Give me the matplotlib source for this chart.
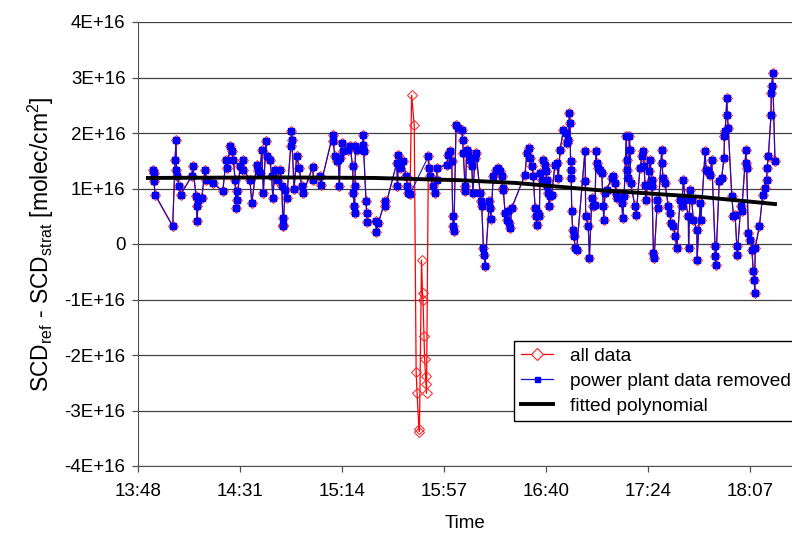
import numpy as np
import matplotlib
matplotlib.use('Agg')
import matplotlib.pyplot as plt
from matplotlib.lines import Line2D
from matplotlib.ticker import FixedLocator, FuncFormatter

# time in minutes after 13:48, values in units of 1E16 molec/cm2
inicio = 13 * 60 + 48

minutos = [
    6.4, 6.6, 6.8, 7.2, 14.7, 15.7, 16.1, 16.3, 16.5, 17.5, 18.1, 22.7, 23.2, 24.6, 24.8, 25.0, 25.5, 27.0,
    28.4, 28.6, 31.8, 35.9, 37.3, 37.8, 39.0, 39.7, 40.4, 41.1, 41.5, 41.8, 42.1, 43.2, 44.4, 44.6, 47.4,
    48.2, 50.3, 51.0, 51.7, 52.4, 53.1, 54.2, 54.5, 55.9, 56.6, 57.1, 58.0, 58.8, 60.2, 60.9, 61.3, 61.4,
    61.5, 62.3, 63.0, 64.7, 65.0, 65.2, 66.1, 67.2, 68.3, 69.3, 70.0,
    74.0, 74.3, 77.1, 77.4, 82.5, 82.7, 83.4, 84.2, 84.8, 85.3, 85.6, 86.3, 86.7, 89.1, 89.8, 90.9, 91.2,
    91.5, 91.7, 91.9, 92.1, 92.6, 95.2, 95.4, 95.6, 96.6, 96.8, 97.0, 100.8, 101.0, 101.8, 104.6, 104.8,
    109.6, 109.9, 110.3, 111.0, 112.4, 113.5, 114.1, 114.5, 115.2,
    115.9, 117.0, 117.8, 118.2, 119.0, 119.2, 120.1, 120.5, 120.7, 121.1, 121.4, 121.8, 122.0, 122.2,
    123.0, 123.2, 123.7, 125.1, 125.8, 126.5, 126.7, 130.8, 131.4, 132.2, 132.9, 133.3, 133.6, 133.8,
    134.7, 135.7, 137.1, 137.5, 137.8, 138.5, 138.7, 139.2, 139.9, 140.6, 141.4, 141.8, 142.8, 143.2,
    144.9, 145.2, 145.6, 146.3, 146.6, 147.0, 148.8, 149.1, 149.4, 150.5, 151.6, 152.6, 153.3, 154.1,
    154.4, 154.7, 155.5, 156.2, 156.9, 157.3, 157.6, 158.3,
    163.9, 164.7, 165.8, 166.1, 166.8, 167.4, 168.2, 168.6, 168.8, 169.6, 170.0, 170.3, 171.0, 171.7,
    172.4, 172.8, 173.1, 173.4, 173.8, 174.1, 174.5, 175.2, 176.6, 177.4, 178.0, 178.8, 180.2, 181.3,
    181.6, 182.3, 182.7, 183.0, 183.2, 183.4, 183.5, 183.7, 184.1, 184.7, 185.1, 185.8,
    189.3, 189.5, 189.6, 190.7, 191.2, 192.2, 192.9, 193.6, 194.0, 194.3, 195.0, 195.7, 196.4, 197.1,
    197.2, 197.8, 198.5, 200.7, 201.3, 202.1, 202.5, 202.8,
    204.9, 205.3, 205.9, 206.8, 207.0, 207.1, 207.7, 208.1, 208.4, 208.6, 210.5, 211.0, 212.6, 213.4,
    214.0, 214.3, 214.8, 215.0, 216.6, 216.9, 217.6, 217.7, 218.3, 218.6, 220.0, 220.4, 221.8, 222.0,
    222.3, 223.2, 224.6, 225.4, 225.6, 226.8, 227.5, 228.2, 229.6, 230.3, 231.0, 231.7, 233.1, 233.2,
    233.8, 234.5, 235.2, 236.7, 236.8, 238.1, 238.4, 240.2, 240.6, 241.6, 242.3, 243.0, 244.4, 244.5,
    244.7, 246.2, 247.2, 248.2, 248.4, 248.7, 249.4, 249.6, 250.0, 251.5, 252.2, 252.9, 253.6, 253.8,
    255.3, 255.7, 257.5, 257.6, 257.8, 258.5, 259.3, 260.0, 260.6, 261.1, 261.2, 261.4, 263.2, 264.6,
    265.6, 266.3, 266.4, 267.0, 268.1, 268.2, 268.4, 268.8, 269.8,
]

valores = [
    1.34, 1.28, 1.13, 0.89, 0.32, 1.52, 1.88, 1.34, 1.22, 1.04, 0.89, 1.22, 1.40, 0.86, 0.68, 0.41, 0.80, 0.83,
    1.34, 1.16, 1.10, 0.95, 1.52, 1.37, 1.76, 1.67, 1.52, 1.16, 0.65, 0.95, 0.80, 1.40, 1.52, 1.34, 1.16,
    0.74, 1.43, 1.34, 1.28, 1.70, 0.92, 1.85, 1.58, 1.52, 1.22, 0.83, 1.34, 1.16, 1.34, 1.04, 0.47, 0.35,
    0.32, 0.98, 0.83, 1.76, 2.03, 1.88, 1.00, 1.58, 1.37, 1.04, 0.92,
    1.39, 1.16, 1.22, 1.07, 1.97, 1.85, 1.58, 1.49, 1.52, 1.04, 1.55, 1.82, 1.67, 1.70, 1.76, 1.40, 0.92,
    0.68, 0.56, 1.04, 1.76, 1.70, 1.79, 1.97, 1.67, 0.77, 0.56, 0.39, 0.41, 0.21, 0.38, 0.77, 0.68,
    1.46, 1.04, 1.61, 1.37, 1.49, 1.22, 1.04, 0.92, 0.90,
    2.68, 2.14, -2.30, -2.69, -3.34, -3.38, -0.29, -0.89, -1.00, -1.66, -2.08, -2.38, -2.53, -2.69,
    1.58, 1.37, 1.22, 1.04, 0.92, 1.16, 1.37, 1.43, 1.61, 1.67, 1.49, 0.50, 0.32, 0.23,
    2.15, 2.09, 2.06, 1.88, 1.64, 1.04, 0.95, 1.70, 1.64, 1.52, 1.40, 0.92, 1.55, 1.64,
    0.92, 0.77, 0.68, -0.07, -0.19, -0.40, 0.77, 0.65, 0.45, 1.22, 1.34, 1.37, 1.31, 1.22,
    1.01, 0.98, 0.56, 0.44, 0.59, 0.38, 0.29, 0.65,
    1.25, 1.64, 1.73, 1.55, 1.40, 1.22, 0.65, 0.50, 0.35, 0.56, 0.50, 1.28, 1.16, 1.52,
    1.43, 1.31, 1.16, 1.04, 0.92, 0.68, 0.86, 0.89, 1.43, 1.46, 1.19, 1.70, 2.06, 2.00,
    1.82, 1.88, 2.36, 2.18, 1.49, 1.34, 1.19, 0.59, 0.26, 0.14, -0.07, -0.10,
    1.67, 1.13, 0.50, 0.32, -0.25, 0.83, 0.68, 0.71, 1.67, 1.46, 1.37, 1.34, 1.28, 0.68,
    0.44, 0.92, 0.98, 1.19, 1.22, 1.10, 0.92, 0.83,
    0.74, 0.47, 0.86, 1.94, 1.52, 1.34, 1.19, 1.94, 1.70, 1.10, 0.68, 0.53, 1.37, 1.58,
    1.67, 1.40, 1.07, 0.80, 1.31, 1.52, 1.16, 1.04, -0.16, -0.25, 0.80, 0.65, 1.70, 1.46,
    1.19, 1.10, 0.68, 0.56, 0.38, 0.32, 0.14, -0.07, 0.80, 0.68, 1.16, 0.80, 0.50, -0.07,
    0.98, 0.80, 0.44, 0.26, -0.28, 0.74, 0.44, 1.67, 1.34, 1.31, 1.25, 1.52, -0.04, -0.22,
    -0.37, 1.13, 1.19, 1.55, 1.94, 2.03, 2.63, 2.33, 2.09, 0.86, 0.50, 0.53, -0.04, -0.19,
    0.68, 0.59, 1.70, 1.46, 1.37, 0.20, 0.08, -0.10, -0.49, -0.64, -0.88, -0.07, 0.32, 0.89,
    1.01, 1.16, 1.37, 1.58, 2.33, 2.72, 2.84, 3.08, 1.49,
]

# power plant plume (minutes after 13:48)
pluma_ini = 115.5
pluma_fim = 122.5

# fitted polynomial
fit_minutos = [4.2, 60.0, 100.0, 136.0, 160.0, 195.0, 238.0, 269.8]
fit_valores = [1.19, 1.20, 1.19, 1.15, 1.10, 0.97, 0.85, 0.72]

plt.rcParams['font.family'] = ['Liberation Sans', 'DejaVu Sans']
plt.rcParams['mathtext.fontset'] = 'custom'
plt.rcParams['mathtext.rm'] = 'Liberation Sans'
plt.rcParams['mathtext.it'] = 'Liberation Sans:italic'

t = inicio + np.array(minutos)
v = np.array(valores) * 1e16
pluma = (np.array(minutos) >= pluma_ini) & (np.array(minutos) <= pluma_fim)
tf = inicio + np.array(fit_minutos)
vf = np.array(fit_valores) * 1e16

fig = plt.figure(figsize=(7.92, 5.34), dpi=100)
ax = fig.add_axes([138 / 792, 1 - 466 / 534, 1 - 138 / 792, 444 / 534])

ax.plot(t, v, color='#ff0000', lw=0.9, marker='D', ms=5, mfc='none', mec='#ff2020', mew=0.7, zorder=2)
ax.plot(t[~pluma], v[~pluma], color='#1010d0', lw=0.8, marker='s', ms=3.9, mfc='#0000ff', mec='#0000ff',
        zorder=3)
ax.plot(tf, vf, color='black', lw=2.8, zorder=4)

passo = 0.03 * 24 * 60
ax.set_xlim(inicio, inicio + 277)
ax.set_ylim(-4e16, 4e16)
ax.xaxis.set_major_locator(FixedLocator([inicio + passo * k for k in range(7)]))
ax.xaxis.set_major_formatter(FuncFormatter(lambda x, p: '%d:%02d' % (int(x + 1e-6) // 60, int(x + 1e-6) % 60)))
ax.yaxis.set_major_locator(FixedLocator([k * 1e16 for k in range(-4, 5)]))
ax.yaxis.set_major_formatter(FuncFormatter(lambda y, p: '0' if abs(y) < 1 else '%dE+16' % round(y / 1e16)))

ax.grid(axis='y', color='#404040', lw=0.9)
ax.set_axisbelow(True)
for lado in ['top', 'right']:
    ax.spines[lado].set_visible(False)
ax.spines['left'].set_color('#505050')
ax.spines['bottom'].set_color('#505050')
ax.tick_params(axis='both', labelsize=13.5, length=4, color='#505050', width=0.9)
ax.tick_params(axis='x', pad=8)
ax.tick_params(axis='y', pad=5)

ax.set_xlabel('Time', fontsize=13.5, labelpad=11)
ax.set_ylabel(r'SCD$_{\mathrm{ref}}$ - SCD$_{\mathrm{strat}}$ [molec/cm$^2$]', fontsize=16.5, labelpad=6)

alcas = [
    Line2D([], [], color='#ff0000', lw=0.9, marker='D', ms=6, mfc='white', mec='#ff2020', mew=0.8),
    Line2D([], [], color='#1010d0', lw=0.9, marker='s', ms=3.6, mfc='#0000ff', mec='#0000ff'),
    Line2D([], [], color='black', lw=2.8),
]
leg = ax.legend(alcas, ['all data', 'power plant data removed', 'fitted polynomial'],
                loc='upper left', bbox_to_anchor=(514 / 792, 1 - 341 / 534), bbox_transform=fig.transFigure,
                fontsize=13.8, frameon=True, fancybox=False, framealpha=1, edgecolor='black',
                borderaxespad=0, borderpad=0.35, labelspacing=0.38, handlelength=1.7, handletextpad=0.85)
leg.get_frame().set_linewidth(1.0)

plt.savefig('out.png', dpi=100)
